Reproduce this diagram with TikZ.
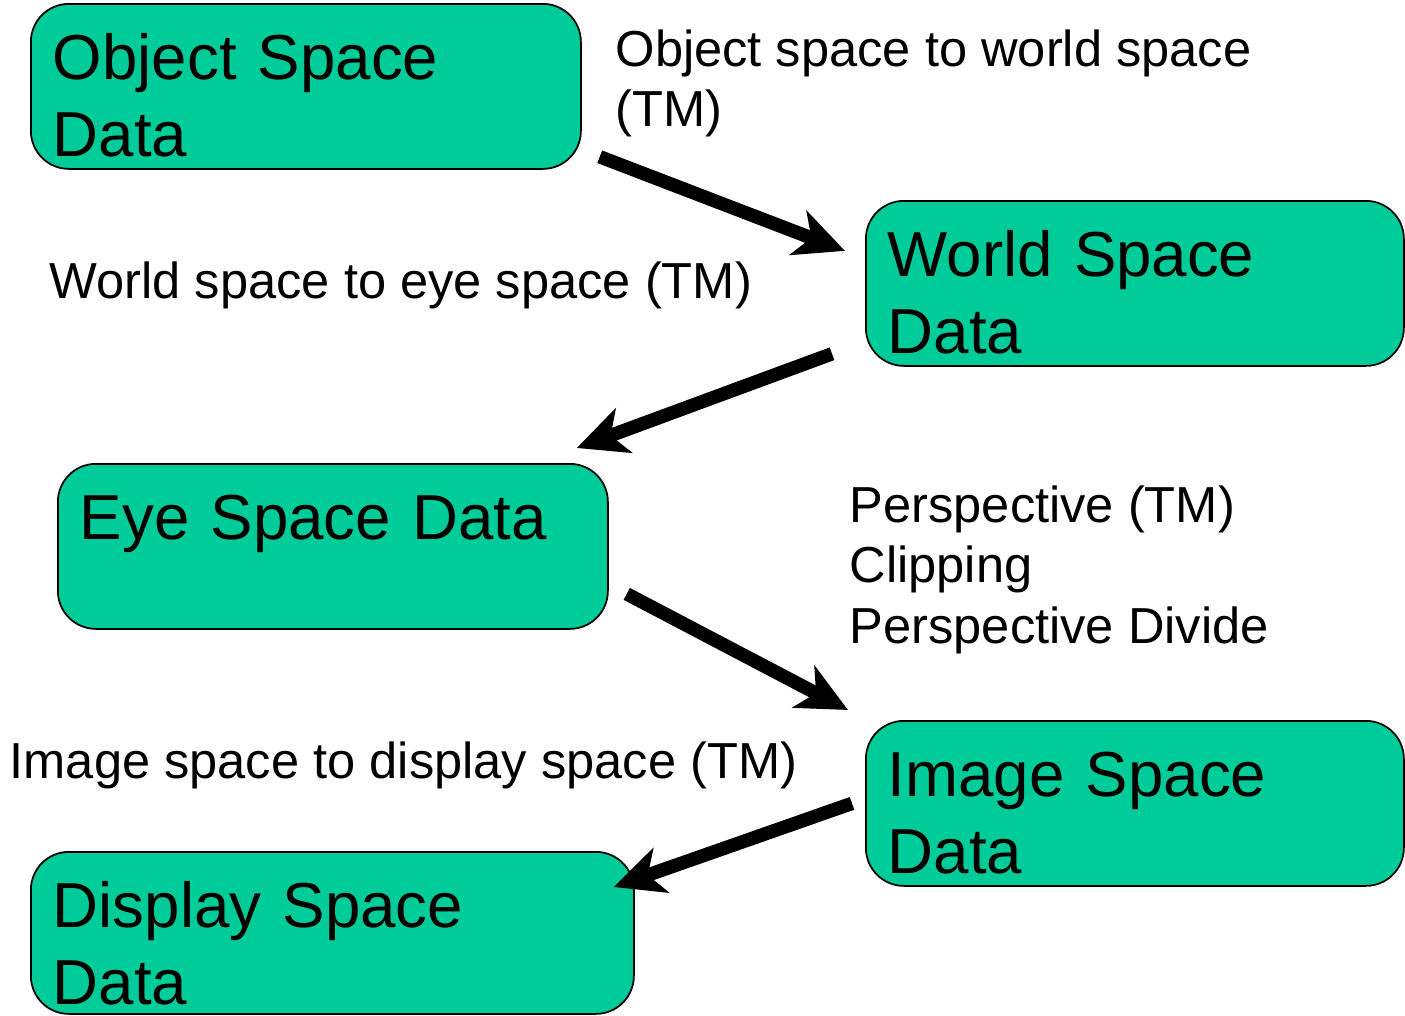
\documentclass[tikz,border=0pt]{standalone}
\usepackage{fontspec}
\setmainfont{Liberation Sans}
\usetikzlibrary{arrows.meta}
\definecolor{boxgreen}{RGB}{0,204,153}

\begin{document}
\begin{tikzpicture}[
    databox/.style={draw=black, line width=0.5pt, fill=boxgreen, rounded corners=0.38cm,
        anchor=north west, inner xsep=0.22cm, inner ysep=0pt, align=left,
        text height=0.76cm, text depth=0.89cm, font=\fontsize{18.1}{21.9}\selectfont},
    note/.style={anchor=base west, inner sep=0pt, align=left, font=\fontsize{14.4}{17.2}\selectfont},
    bigarrow/.style={line width=0.135cm, -{Stealth[length=0.5cm,width=0.47cm,inset=0.14cm]}}
]
    % page size
    \useasboundingbox (0,0) rectangle (14.05,10.15);

    % data boxes
    \node[databox, text width=5.06cm] (obj) at (0.30,10.12) {Object Space\\Data};
    \node[databox, text width=4.94cm] (world) at (8.65,8.15) {World Space\\Data};
    \node[databox, text width=5.06cm] (eye) at (0.57,5.52) {Eye Space Data};
    \node[databox, text width=4.94cm] (img) at (8.65,2.95) {Image Space\\Data};
    \node[databox, text width=5.59cm, text depth=0.86cm] (disp) at (0.30,1.64) {Display Space\\Data};

    % labels (base = last line)
    \node[note] (lblobj) at (6.15,8.88) {Object space to world space\\(TM)};
    \node[note] (lblworld) at (0.49,7.17) {World space to eye space (TM)};
    \node[note] (lblpersp) at (8.49,3.72) {Perspective (TM)\\Clipping\\Perspective Divide};
    \node[note] (lblimg) at (0.09,2.37) {Image space to display space (TM)};

    % arrows
    \draw[bigarrow] ([shift={(0.18,0.13)}]obj.south east) -- ([shift={(-0.20,0.325)}]world.west);
    \draw[bigarrow] ([shift={(-0.33,0.13)}]world.south west) -- ([shift={(-0.32,0.15)}]eye.north east);
    \draw[bigarrow] ([shift={(0.18,-0.475)}]eye.east) -- ([shift={(-0.17,0.10)}]img.north west);
    \draw[bigarrow] ([shift={(-0.13,0)}]img.west) -- ([shift={(-0.21,-0.36)}]disp.north east);
\end{tikzpicture}
\end{document}
